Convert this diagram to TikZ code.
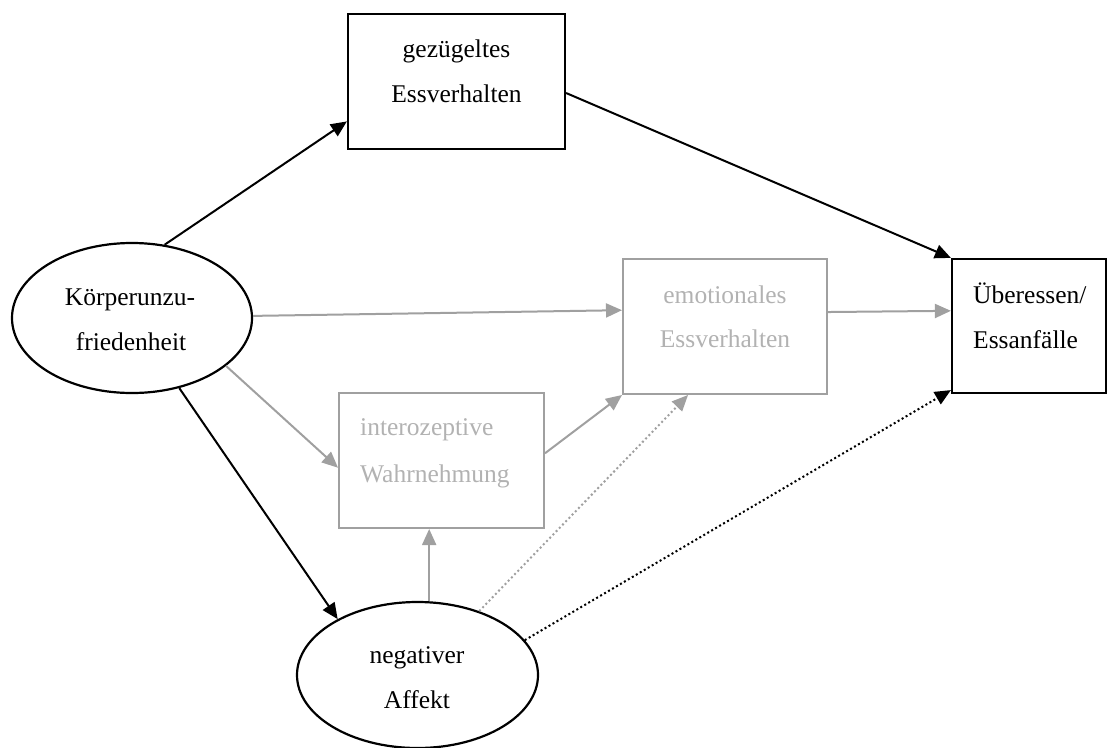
\documentclass[tikz,border=0pt]{standalone}
\usepackage{fontspec}
\setmainfont{Liberation Serif}
\usetikzlibrary{arrows.meta,shapes.geometric}
\definecolor{linegrey}{RGB}{160,160,160}
\definecolor{textgrey}{RGB}{178,178,178}
\begin{document}
\begin{tikzpicture}[x=1pt,y=-1pt,
  lbl/.style={font=\fontsize{25.5}{45}\selectfont, inner sep=0pt, anchor=base},
  glbl/.style={lbl, text=textgrey},
  blackbox/.style={draw, line width=2.2pt, inner sep=0pt},
  greybox/.style={draw=linegrey, line width=2pt, inner sep=0pt},
  oval/.style={ellipse, draw, line width=2.2pt, inner sep=0pt},
  tip/.style={-{Triangle[length=16pt,width=14pt]}},
  blackarrow/.style={tip, line width=2pt, black},
  greyarrow/.style={tip, line width=2pt, linegrey},
  dottedarrow/.style={tip, line width=2pt, dash pattern=on 2pt off 2.6pt}
]
\useasboundingbox (0,0) rectangle (1110,747);

% constructs
\node[oval, minimum width=240pt, minimum height=150pt] (koerper) at (132,318) {};
\node[oval, minimum width=241pt, minimum height=146pt] (affekt) at (417.5,675) {};
\node[blackbox, minimum width=217pt, minimum height=135pt] (ges) at (456.5,81.5) {};
\node[greybox, minimum width=204pt, minimum height=135pt] (emo) at (725,326.5) {};
\node[greybox, minimum width=205pt, minimum height=135pt] (intero) at (441.5,460.5) {};
\node[blackbox, minimum width=154pt, minimum height=134pt] (ueber) at (1029,326) {};

% labels
\node[lbl] (koerper1) at (130,305) {Körperunzu-};
\node[lbl] (koerper2) at (131,350) {friedenheit};
\node[lbl] (ges1) at (456.5,57) {gezügeltes};
\node[lbl] (ges2) at (456.5,102) {Essverhalten};
\node[glbl] (emo1) at (725,303) {emotionales};
\node[glbl] (emo2) at (725,347) {Essverhalten};
\node[glbl, anchor=base west] (intero1) at (360,435) {interozeptive};
\node[glbl, anchor=base west] (intero2) at (360,482) {Wahrnehmung};
\node[lbl, anchor=base west] (ueber1) at (973,303) {Überessen/};
\node[lbl, anchor=base west] (ueber2) at (973,348) {Essanfälle};
\node[lbl] (affekt1) at (417,663) {negativer};
\node[lbl] (affekt2) at (417,708) {Affekt};

% paths
\draw[blackarrow] (koerper.66) -- (ges.200.5);
\draw[blackarrow] (ges.354) -- (ueber.north west);
\draw[greyarrow] (koerper.1) -- (emo.171.9);
\draw[greyarrow] (emo.8.1) -- (ueber.169.7);
\draw[greyarrow] (koerper.-27) -- (intero.184.2);
\draw[blackarrow] (koerper.-56.9) -- (affekt.145.8);
\draw[greyarrow] (affekt.81.8) -- (affekt.81.8 |- intero.south);
\draw[greyarrow] (intero.4.2) -- (emo.south west);
\draw[dottedarrow, linegrey] (affekt.46.6) -- ([xshift=-37pt]emo.south);
\draw[dottedarrow, black] (affekt.18.5) -- ([yshift=4pt]ueber.south west);
\end{tikzpicture}
\end{document}
